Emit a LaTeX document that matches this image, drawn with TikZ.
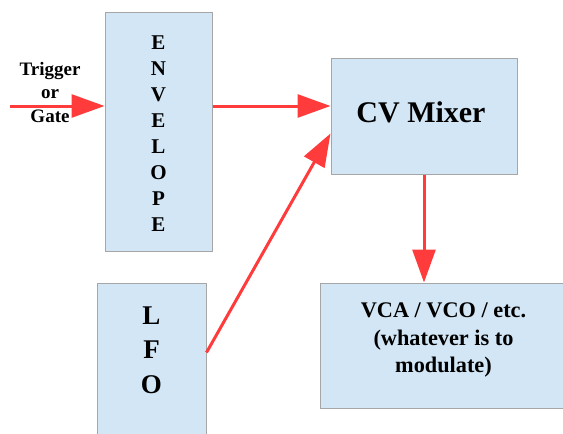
\documentclass[tikz,border=0pt]{standalone}
\usepackage{fontspec}
\setmainfont{Liberation Serif}[BoldFont={Liberation Serif Bold}]
\usetikzlibrary{arrows.meta,calc}
\definecolor{boxfill}{HTML}{D2E6F5}
\definecolor{boxline}{HTML}{A6A6A6}
\definecolor{wire}{HTML}{FF3B3B}
\tikzset{
  block/.style={draw=boxline, fill=boxfill, line width=1pt, inner sep=0pt},
  caption/.style={align=center, inner sep=0pt},
  signal/.style={draw=wire, line width=3pt, -{Triangle[length=33pt,width=23pt]}}
}
\begin{document}
\begin{tikzpicture}[x=1pt,y=-1pt]
  \useasboundingbox (0,0) rectangle (563,434);
  \clip (0,0) rectangle (563,434);
  % blocks
  \node[block, minimum width=107pt, minimum height=239pt] (env) at (158.5,131.5) {};
  \node[block, minimum width=186pt, minimum height=116pt] (cv) at (424,116) {};
  \node[block, minimum width=109pt, minimum height=177pt] (lfo) at (151.5,371.5) {};
  \node[block, minimum width=280pt, minimum height=125pt] (vca) at (460,345.5) {};
  % block captions
  \node[caption, font=\rmfamily\bfseries\fontsize{21}{26}\selectfont] (envtext) at (158.5,133.5)
    {E\\N\\V\\E\\L\\O\\P\\E};
  \node[caption, font=\rmfamily\bfseries\fontsize{30}{36}\selectfont] (cvtext) at (421,112) {CV Mixer};
  \node[caption, font=\rmfamily\bfseries\fontsize{27}{34.5}\selectfont] (lfotext) at (151.5,350) {L\\F\\O};
  \node[caption, font=\rmfamily\bfseries\fontsize{22.3}{27.5}\selectfont] (vcatext) at (443.5,340)
    {VCA / VCO / etc.\\(whatever is to\\modulate)};
  \node[caption, font=\rmfamily\bfseries\fontsize{19}{23.5}\selectfont] (trigtext) at (50,92)
    {Trigger\\or\\Gate};
  % connectors
  \coordinate (trig) at (10,106);
  \draw[signal] (trig) -- (trig -| env.west);
  \draw[signal] (env.east |- trig) -- (cv.west |- trig);
  \draw[signal] ($(lfo.north east)+(0,70)$) -- ($(cv.north west)+(0,76)$);
  \draw[signal] (cv.south) -- (cv.south |- vca.north);
\end{tikzpicture}
\end{document}
